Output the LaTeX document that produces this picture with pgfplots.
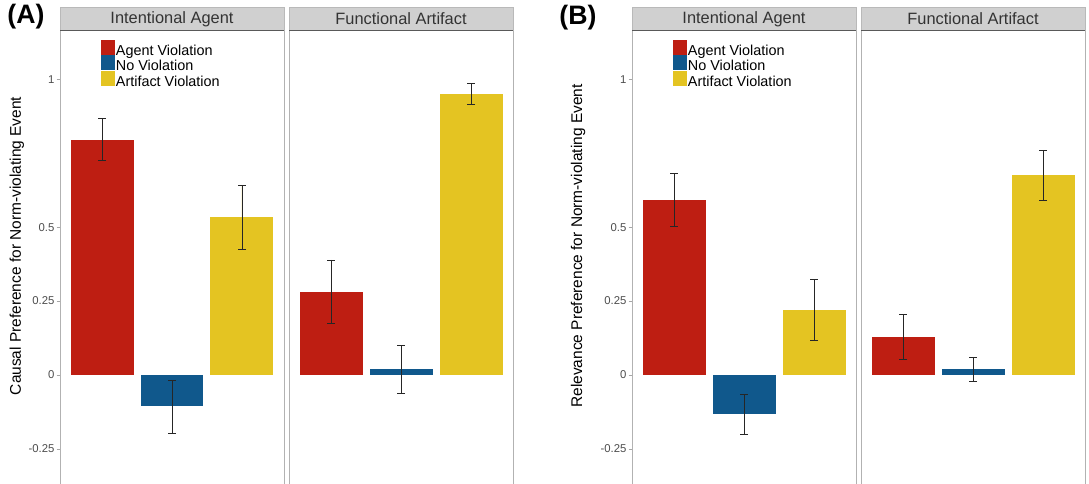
\documentclass[border=0pt]{standalone}
\usepackage{fontspec}
\setmainfont{Liberation Sans}
\usepackage{pgfplots}
\pgfplotsset{compat=1.18}
\definecolor{cred}{RGB}{190,30,18}
\definecolor{cblue}{RGB}{16,88,140}
\definecolor{cyel}{RGB}{228,196,34}
\definecolor{stripgray}{RGB}{208,208,208}
\newcommand{\onebar}[5]{\addplot[ybar, bar width=0.9, bar shift=0pt, fill=#1, draw=none,
  error bars/.cd, y dir=both, y explicit,
  error bar style={draw=black!85, line width=0.55pt},
  error mark options={rotate=90, draw=black!85, mark size=3pt, line width=0.55pt}]
  coordinates {(#2,#3) += (0,#4) -= (0,#5)};}
\newcommand{\strip}[1]{%
  \fill[stripgray] (rel axis cs:0,1) rectangle ([yshift=17.25pt]rel axis cs:1,1);
  \draw[gray!55, line width=0.5pt] (rel axis cs:0,1) rectangle ([yshift=17.25pt]rel axis cs:1,1);
  \draw[black!65, line width=0.7pt] (rel axis cs:0,1) -- (rel axis cs:1,1);
  \node[font=\fontsize{12.3}{14}\selectfont, text=black!80] at ([yshift=8.2pt]rel axis cs:0.5,1) {#1};}
\pgfplotsset{
  facet/.style={scale only axis, width=168pt, height=340.5pt, anchor=south west,
    xmin=0.4, xmax=3.6, ymin=-0.368, ymax=1.166, xtick=\empty,
    axis line style={draw=gray!60, line width=0.6pt},
    clip=false},
  ticked/.style={ytick={-0.25,0,0.25,0.5,1}, yticklabels={-0.25,0,0.25,0.5,1},
    tick style={draw=gray!70, line width=0.5pt}, tick align=outside, ytick pos=left,
    major tick length=2.5pt,
    yticklabel style={font=\fontsize{8.5}{10}\selectfont, text=black!70, inner sep=1.5pt},
    legend entries={Agent Violation, No Violation, Artifact Violation},
    legend style={at={(0.183,0.979)}, anchor=north west, draw=none, fill=none,
      font=\fontsize{10.8}{11}\selectfont, row sep=-2.9pt, inner sep=0pt,
      nodes={inner sep=0pt, text height=8.3pt, text depth=2.95pt, anchor=west},
      /tikz/every odd column/.style={column sep=0.5pt}},
    legend cell align=left,
    legend image code/.code={\fill[##1] (0pt,-2.4pt) rectangle (10.5pt,8.85pt);}},
  plain/.style={ytick=\empty}
}
\begin{document}
\begin{tikzpicture}
% Panel A, Intentional Agent
\begin{axis}[facet, ticked, at={(45pt,0pt)}]
\onebar{cred}{1}{0.794}{0.074}{0.068}
\onebar{cblue}{2}{-0.105}{0.088}{0.091}
\onebar{cyel}{3}{0.534}{0.108}{0.108}
\strip{Intentional Agent}
\end{axis}
% Panel A, Functional Artifact
\begin{axis}[facet, plain, at={(216.75pt,0pt)}]
\onebar{cred}{1}{0.280}{0.109}{0.104}
\onebar{cblue}{2}{0.020}{0.081}{0.081}
\onebar{cyel}{3}{0.949}{0.037}{0.033}
\strip{Functional Artifact}
\end{axis}
% Panel B, Intentional Agent
\begin{axis}[facet, ticked, at={(474pt,0pt)}]
\onebar{cred}{1}{0.591}{0.091}{0.088}
\onebar{cblue}{2}{-0.132}{0.068}{0.067}
\onebar{cyel}{3}{0.220}{0.104}{0.102}
\strip{Intentional Agent}
\end{axis}
% Panel B, Functional Artifact
\begin{axis}[facet, plain, at={(645.75pt,0pt)}]
\onebar{cred}{1}{0.128}{0.078}{0.074}
\onebar{cblue}{2}{0.020}{0.041}{0.040}
\onebar{cyel}{3}{0.676}{0.084}{0.085}
\strip{Functional Artifact}
\end{axis}
\node[rotate=90, font=\fontsize{11.6}{13}\selectfont] at (12.75pt,178.5pt) {Causal Preference for Norm-violating Event};
\node[rotate=90, font=\fontsize{11.6}{13}\selectfont] at (433.5pt,178.5pt) {Relevance Preference for Norm-violating Event};
\node[font=\fontsize{20}{22}\bfseries] at (19.5pt,350.25pt) {(A)};
\node[font=\fontsize{20}{22}\bfseries] at (433.5pt,349.5pt) {(B)};
\pgfresetboundingbox
\useasboundingbox (0,0) rectangle (816.75pt,363pt);
\end{tikzpicture}
\end{document}
